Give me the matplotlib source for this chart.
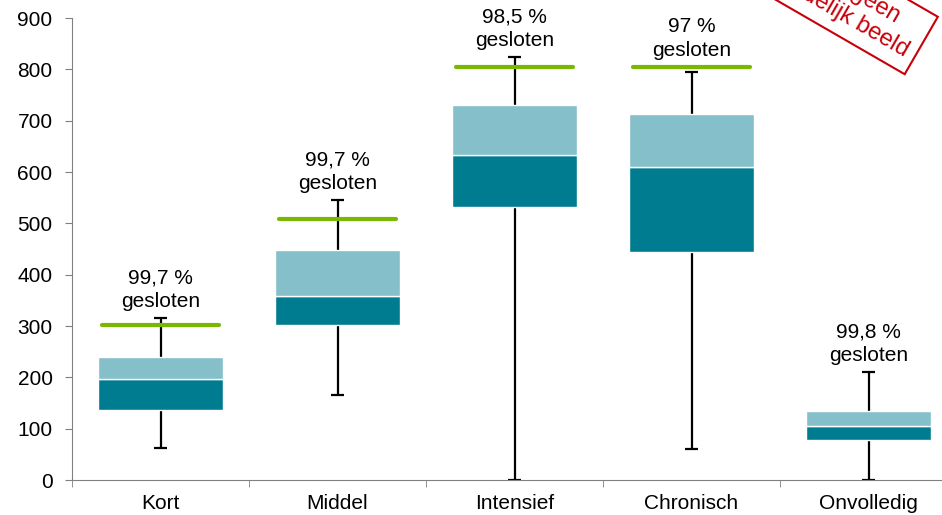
import numpy as np
import matplotlib
matplotlib.use('Agg')
from matplotlib import pyplot as plt

plt.rcParams['font.family'] = ['Liberation Sans', 'DejaVu Sans']

# data
categories = ['Kort', 'Middel', 'Intensief', 'Chronisch', 'Onvolledig']
whisker_low = [62, 165, 0, 60, 0]
q1 = [137, 302, 532, 444, 77]
median = [196, 358, 634, 610, 105]
q3 = [240, 448, 730, 713, 134]
whisker_high = [316, 545, 825, 795, 211]
target = [302, 508, 805, 805, None]
closed_labels = ['99,7 %\ngesloten', '99,7 %\ngesloten', '98,5 %\ngesloten',
                 '97 %\ngesloten', '99,8 %\ngesloten']

dark = '#007C91'
light = '#84BFCA'
green = '#7AB800'
red = '#C8000A'

fig = plt.figure(figsize=(9.42, 5.15), dpi=100)
# axes runs a little past the right edge, like the original export
ax = fig.add_axes([72 / 942, 35 / 515, 885 / 942, 462 / 515])

x = np.arange(len(categories)) + 0.5

# whiskers behind the boxes
ax.vlines(x, whisker_low, whisker_high, color='black', linewidth=1.6, zorder=1)
ax.hlines(whisker_high, x - 0.035, x + 0.035, color='black', linewidth=1.6, zorder=1)
ax.hlines(whisker_low, x - 0.035, x + 0.035, color='black', linewidth=1.6, zorder=1)

lower = np.array(median) - np.array(q1)
upper = np.array(q3) - np.array(median)
ax.bar(x, lower, bottom=q1, width=0.71, color=dark, edgecolor='white', linewidth=1, zorder=2)
ax.bar(x, upper, bottom=median, width=0.71, color=light, edgecolor='white', linewidth=1, zorder=2)

for xi, t in zip(x, target):
    if t is not None:
        ax.hlines(t, xi - 0.33, xi + 0.33, color=green, linewidth=3, capstyle='round', zorder=3)

for xi, hi, t, lab in zip(x, whisker_high, target, closed_labels):
    top = hi if t is None else max(hi, t)
    ax.annotate(lab, (xi, top), xytext=(0, 5), textcoords='offset points',
                ha='center', va='bottom', fontsize=15, linespacing=1.3)

ax.set_xlim(0, len(categories))
ax.set_ylim(0, 900)
ax.set_yticks(range(0, 901, 100))
ax.set_xticks(x)
ax.set_xticklabels(categories)
ax.set_xticks(np.arange(0, len(categories) + 1), minor=True)
ax.tick_params(axis='x', which='major', length=0, labelsize=15, pad=10)
ax.tick_params(axis='x', which='minor', length=5, color='#808080', direction='out')
ax.tick_params(axis='y', length=5, color='#808080', labelsize=15, pad=9)

for side in ['top', 'right']:
    ax.spines[side].set_visible(False)
for side in ['left', 'bottom']:
    ax.spines[side].set_color('#808080')

# stamp in the corner
fig.text(0.900, 0.994, 'Nog geen\nduidelijk beeld', rotation=-30, color=red,
         fontsize=17, ha='center', va='center', multialignment='center',
         rotation_mode='anchor',
         bbox=dict(boxstyle='square,pad=0.4', facecolor='none', edgecolor=red, linewidth=1.5))

fig.savefig('out.png', dpi=100)
